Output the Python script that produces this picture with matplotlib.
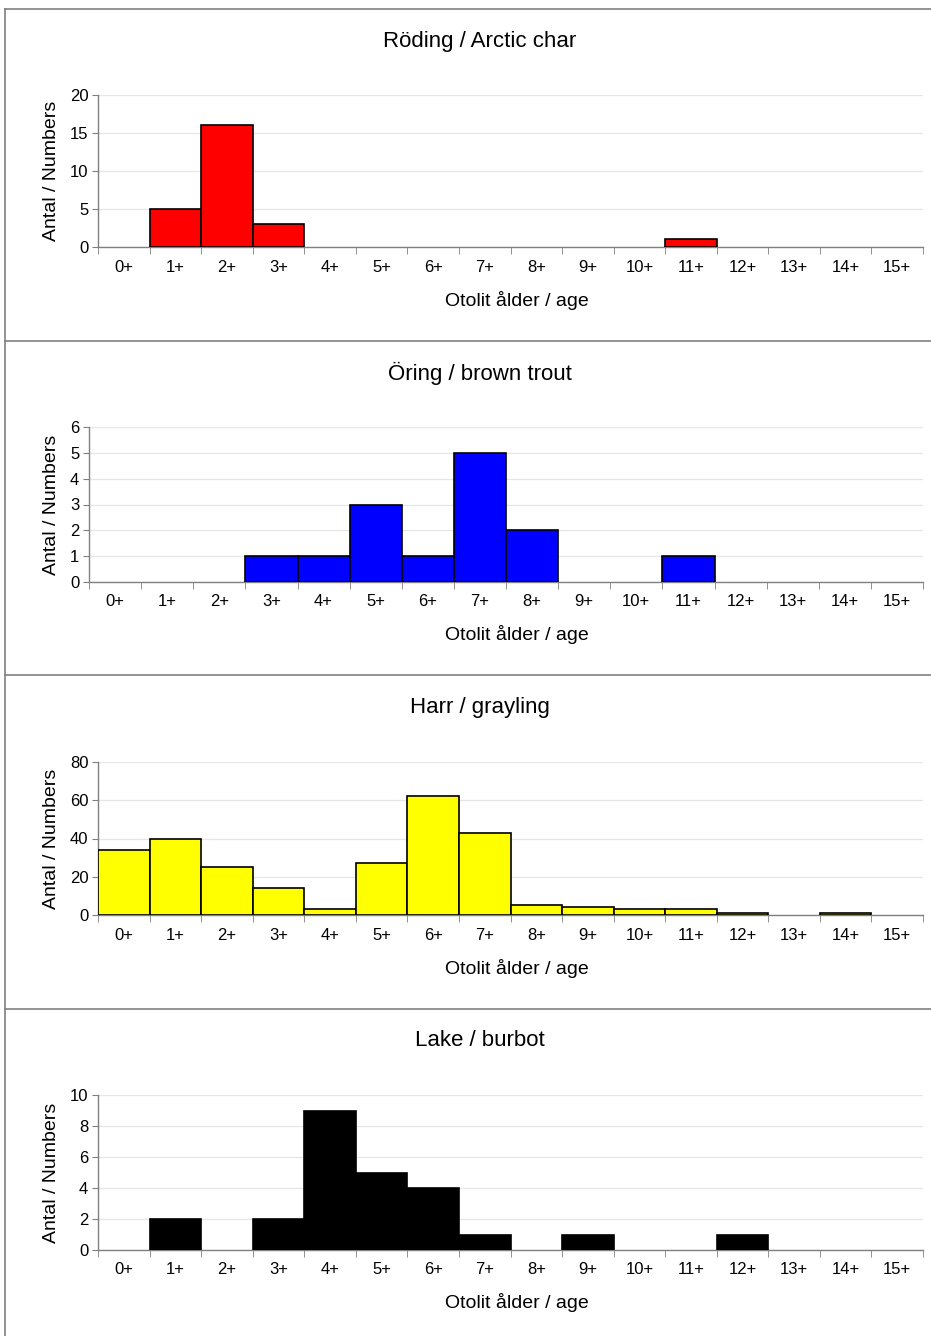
import matplotlib
matplotlib.use("Agg")
import matplotlib.pyplot as plt
from matplotlib.lines import Line2D
import numpy as np

plt.rcParams['font.family'] = ['Liberation Sans', 'DejaVu Sans']

ages = [f"{i}+" for i in range(16)]

char_counts = [0, 5, 16, 3, 0, 0, 0, 0, 0, 0, 0, 1, 0, 0, 0, 0]
trout_counts = [0, 0, 0, 1, 1, 3, 1, 5, 2, 0, 0, 1, 0, 0, 0, 0]
grayling_counts = [34, 40, 25, 14, 3, 27, 62, 43, 5, 4, 3, 3, 1, 0, 1, 0]
burbot_counts = [0, 2, 0, 2, 9, 5, 4, 1, 0, 1, 0, 0, 1, 0, 0, 0]

titles = ["Röding / Arctic char", "Öring / brown trout", "Harr / grayling", "Lake / burbot"]
colors = ["#ff0000", "#0000ff", "#ffff00", "#000000"]
ymax = [20, 6, 80, 10]
ystep = [5, 1, 20, 2]

W, H = 931, 1336
fig = plt.figure(figsize=(W / 100, H / 100), dpi=100)

# axes boxes in pixels: left, top, right, bottom
boxes = [(98, 95, 923, 247), (89, 427, 923, 582), (98, 762, 923, 915), (98, 1095, 923, 1250)]
title_y = [41, 373, 708, 1041]
xlabel_y = [300, 634, 968, 1302]

data = [char_counts, trout_counts, grayling_counts, burbot_counts]
x = np.arange(len(ages))

for i, counts in enumerate(data):
    l, t, r, b = boxes[i]
    ax = fig.add_axes([l / W, 1 - b / H, (r - l) / W, (b - t) / H])
    counts = np.array(counts)
    nz = counts > 0  # empty classes draw nothing, as in the original
    ax.bar(x[nz], counts[nz], width=1.0, color=colors[i], edgecolor="black", linewidth=1.2, zorder=3)
    ax.set_xlim(-0.5, 15.5)
    ax.set_ylim(0, ymax[i])
    ax.set_yticks(np.arange(0, ymax[i] + 1, ystep[i]))
    ax.set_xticks(x)
    ax.set_xticklabels(ages)
    ax.set_xticks(np.arange(-0.5, 16, 1), minor=True)
    ax.tick_params(axis="x", which="major", length=0, labelsize=12, pad=9)
    ax.tick_params(axis="x", which="minor", length=5, color="#808080")
    ax.tick_params(axis="y", length=4, color="#808080", labelsize=12, pad=3)
    ax.grid(axis="y", color="#e6e6e6", linewidth=0.9, zorder=0)
    for s in ["top", "right"]:
        ax.spines[s].set_visible(False)
    for s in ["left", "bottom"]:
        ax.spines[s].set_color("#808080")
        ax.spines[s].set_linewidth(1.0)
    ax.set_ylabel("Antal / Numbers", fontsize=14, labelpad=7)
    fig.text(480 / W, 1 - title_y[i] / H, titles[i], ha="center", va="center", fontsize=16)
    fig.text(517 / W, 1 - xlabel_y[i] / H, "Otolit ålder / age", ha="center", va="center", fontsize=14)

# panel frame lines
frame = "#808080"
fig.add_artist(Line2D([5 / W, 1], [1 - 9 / H, 1 - 9 / H], color=frame, linewidth=1.2))
fig.add_artist(Line2D([5 / W, 5 / W], [1 - 9 / H, 0], color=frame, linewidth=1.2))
for yy in [341, 675, 1009]:
    fig.add_artist(Line2D([5 / W, 1], [1 - yy / H, 1 - yy / H], color=frame, linewidth=1.2))

fig.savefig("out.png", dpi=100)
